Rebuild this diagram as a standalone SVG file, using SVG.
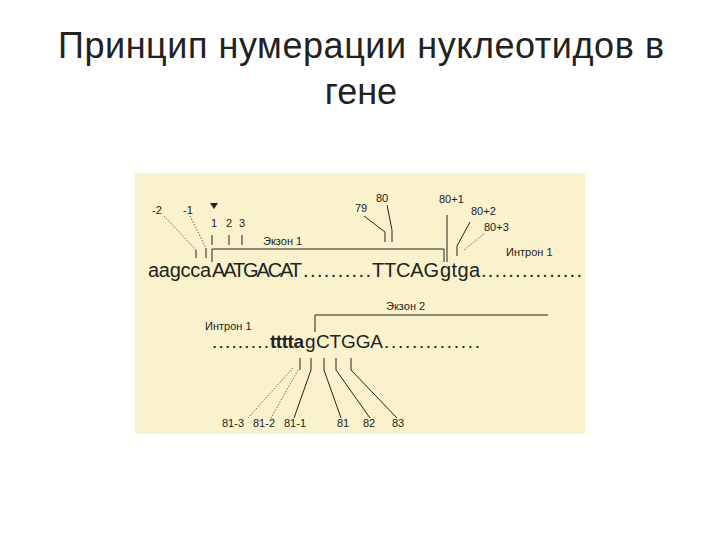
<svg xmlns="http://www.w3.org/2000/svg" width="720" height="540" viewBox="0 0 720 540">
<style>
.t{font-family:"Liberation Sans",Arial,sans-serif;fill:#222}
.s{font-size:11px}
.l{stroke:#222;stroke-width:1;fill:none}
.d{stroke:#444;stroke-width:0.8;stroke-dasharray:1.5 1.5;fill:none}
</style>
<rect width="720" height="540" fill="#fff"/>
<text class="t" x="361" y="58" font-size="36" text-anchor="middle" textLength="606" font-family="Open Sans,sans-serif">Принцип нумерации нуклеотидов в</text>
<text class="t" x="361" y="104" font-size="36" text-anchor="middle">гене</text>
<rect x="135" y="173" width="450" height="261" fill="#faf2cc"/>
<g id="labels-top">
<text class="t s" x="152" y="214">-2</text>
<text class="t s" x="183" y="214">-1</text>
<polygon points="210,203 218,203 214,209" fill="#222"/>
<text class="t s" x="211" y="227">1</text>
<text class="t s" x="226" y="227">2</text>
<text class="t s" x="239" y="227">3</text>
<text class="t s" x="263" y="245">Экзон 1</text>
<text class="t s" x="355" y="212">79</text>
<text class="t s" x="376" y="202">80</text>
<text class="t s" x="439" y="203">80+1</text>
<text class="t s" x="471" y="215">80+2</text>
<text class="t s" x="484" y="231">80+3</text>
<text class="t s" x="506" y="256">Интрон 1</text>
</g>
<g id="seq1" class="t" font-size="20">
<text x="148" y="277" textLength="63">aagcca</text>
<text x="212" y="277" textLength="90">AATGACAT</text>
<text x="303" y="277" textLength="68">..........</text>
<text x="372" y="277" textLength="67">TTCAG</text>
<text x="440" y="277" textLength="40">gtga</text>
<text x="481" y="277" textLength="101">...............</text>
</g>
<g id="seq2" class="t">
<text class="s" x="205" y="330">Интрон 1</text>
<text x="212" y="348" font-size="19" textLength="57">.........</text>
<text x="270" y="348" font-size="19" font-weight="bold" textLength="34">tttta</text>
<text x="305" y="348" font-size="19">g</text>
<text x="316" y="348" font-size="19" textLength="67">CTGGA</text>
<text x="384" y="348" font-size="19" textLength="96">..............</text>
<text class="s" x="386" y="310">Экзон 2</text>
<text class="s" x="222" y="427">81-3</text>
<text class="s" x="253" y="427">81-2</text>
<text class="s" x="284" y="427">81-1</text>
<text class="s" x="337" y="427">81</text>
<text class="s" x="363" y="427">82</text>
<text class="s" x="392" y="427">83</text>
</g>
<g id="connectors">
<path class="l" d="M212 262V249H444V262"/>
<path class="l" d="M212 235V245M229 235V245M242 235V245"/>
<path class="d" d="M164 216L196 250"/><path class="l" d="M196 250V258"/>
<path class="d" d="M190 216L206 248"/><path class="l" d="M206 248V258"/>
<path class="l" d="M364 216L385 232V242M387 205L392 230V242"/>
<path class="l" d="M447 215V262"/>
<path class="l" d="M470 222L457 246V256"/>
<path class="d" d="M484 234L464 250"/>
<path class="l" d="M315 332V315H548"/>
<path class="l" d="M300 358V370M311 358V370M324 358V370M336 358V370M351 358V370"/>
<path class="d" d="M293 368L248 418M298 370L271 418"/>
<path class="l" d="M311 370L294 418M324 370L341 418M336 370L370 418M351 370L397 418"/>
</g>
</svg>
